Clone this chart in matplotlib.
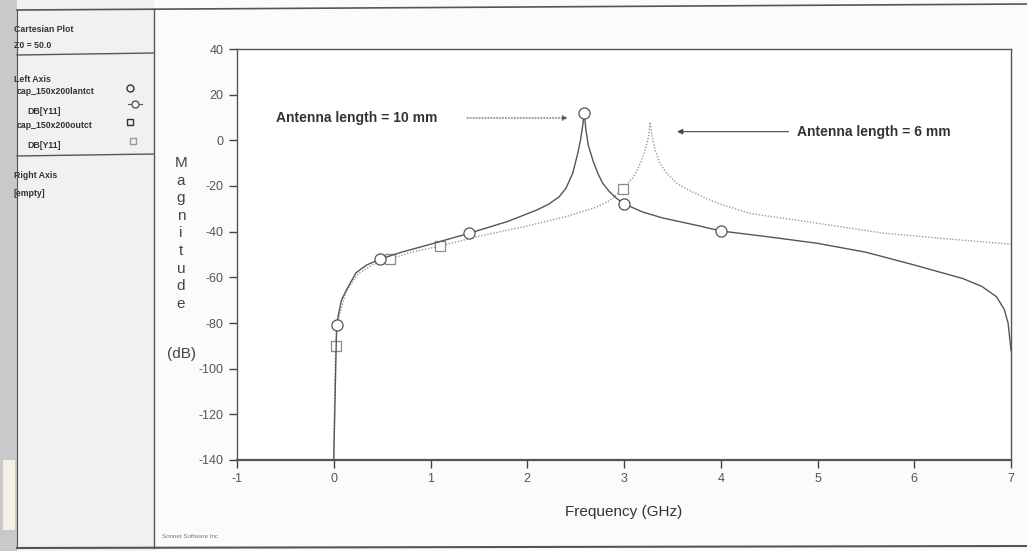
import numpy as np
import matplotlib.pyplot as plt
from matplotlib.patches import Rectangle

plt.rcParams['font.family'] = ['Liberation Sans', 'DejaVu Sans']

# 10 mm antenna, solid line (GHz, dB)
f_10mm = [0.0, 0.02, 0.03, 0.045, 0.08, 0.13, 0.23, 0.34, 0.48, 0.7, 1.0, 1.4,
          1.8, 2.1, 2.22, 2.33, 2.4, 2.47, 2.52, 2.55, 2.575, 2.59, 2.605, 2.63,
          2.68, 2.73, 2.78, 2.85, 2.92, 3.0, 3.2, 3.4, 3.78, 4.0, 4.5, 5.0, 5.5,
          6.0, 6.5, 6.7, 6.85, 6.93, 6.97, 7.0]
db_10mm = [-140, -100, -81, -77, -70, -65.6, -58, -54.6, -52, -49, -45.5, -40.7,
           -35.5, -30.5, -28, -24.7, -21, -14.4, -6, 0, 7, 12, 5, -2,
           -9, -14.5, -18.8, -22.5, -25.3, -27.8, -31.5, -34, -37.5, -39.7, -42.3,
           -45.1, -49, -54.6, -60.5, -64, -68.5, -74, -80, -92]
# circle markers on the 10 mm trace
mk_f_10mm = [0.03, 0.48, 1.40, 2.59, 3.0, 4.0]
mk_db_10mm = [-81, -52, -40.7, 12, -27.8, -39.7]

# 6 mm antenna, dotted line
f_6mm = [0.0, 0.01, 0.02, 0.03, 0.06, 0.13, 0.25, 0.4, 0.58, 0.8, 1.1, 1.5, 2.0,
         2.4, 2.7, 2.85, 2.99, 3.1, 3.17, 3.22, 3.25, 3.27, 3.29, 3.32, 3.37,
         3.44, 3.55, 3.68, 3.85, 4.0, 4.3, 5.0, 5.67, 6.3, 7.0]
db_6mm = [-140, -110, -90, -84, -76, -66, -58.5, -54.5, -52, -49, -46.3, -42,
          -37.5, -33.4, -29.5, -26.5, -21.3, -16, -10, -4, 1, 8, 2, -4, -10,
          -14.4, -19, -22, -25.5, -28, -32, -36.3, -40.6, -43, -45.5]
# square markers on the 6 mm trace
mk_f_6mm = [0.02, 0.58, 1.10, 2.99]
mk_db_6mm = [-90, -52, -46.3, -21.3]

xticks = [-1, 0, 1, 2, 3, 4, 5, 6, 7]
yticks = [40, 20, 0, -20, -40, -60, -80, -100, -120, -140]

W, H = 1027, 551
fig = plt.figure(figsize=(W / 100, H / 100), dpi=100)
fig.patch.set_facecolor('#fbfbfb')

# overlay in pixel coordinates for the frame / side panel
bg = fig.add_axes([0, 0, 1, 1])
bg.set_xlim(0, W)
bg.set_ylim(H, 0)
bg.axis('off')
bg.add_patch(Rectangle((0, 0), 17, H, color='#c9c9c9', lw=0))
bg.add_patch(Rectangle((17, 0), 137, H, color='#f1f1f1', lw=0))
bg.add_patch(Rectangle((3, 460), 12, 70, color='#f4f2e6', lw=0))
lc = '#555555'
bg.plot([17, 1027], [10, 4], color=lc, lw=1.2)
bg.plot([17, 1027], [548, 546], color=lc, lw=1.5)
bg.plot([17, 17], [10, 548], color=lc, lw=0.8)
bg.plot([154, 154], [9, 548], color=lc, lw=1)
bg.plot([17, 154], [55, 53], color=lc, lw=1)
bg.plot([17, 154], [156, 154], color=lc, lw=1)
kw = dict(fontsize=6.3, fontweight='bold', color='#333333', va='center')
bg.text(14, 29, 'Cartesian Plot', **kw)
bg.text(14, 46, 'Z0 = 50.0', **kw)
bg.text(14, 79, 'Left Axis', **kw)
bg.text(17, 92, 'cap_150x200lantct', **kw)
bg.text(27, 112, 'DB[Y11]', **kw)
bg.text(17, 125, 'cap_150x200outct', **kw)
bg.text(27, 146, 'DB[Y11]', **kw)
bg.text(14, 176, 'Right Axis', **kw)
bg.text(14, 193, '[empty]', **kw)
bg.plot([130], [88], 'o', mfc='none', mec='#333333', ms=5)
bg.plot([128, 142], [104, 104], color='#555555', lw=0.8)
bg.plot([135], [104], 'o', mfc='white', mec='#555555', ms=5)
bg.plot([130], [122], 's', mfc='none', mec='#333333', ms=5)
bg.plot([133], [141], 's', mfc='none', mec='#999999', ms=5)
bg.text(162, 537, 'Sonnet Software Inc', fontsize=4.5, color='#777777', va='center')

# y label as stacked letters
for i, ch in enumerate('Magnitude'):
    bg.text(181, 163 + i * 17.6, ch, fontsize=11, color='#444444', ha='center', va='center')
bg.text(181, 354, '(dB)', fontsize=11, color='#444444', ha='center', va='center')

ax = fig.add_axes([237 / W, 1 - 460 / H, (1011 - 237) / W, (460 - 49) / H])
ax.set_facecolor('white')

ax.plot(f_6mm, db_6mm, color='#9a9a9a', lw=1.0, ls=(0, (1, 1.2)))
ax.plot(mk_f_6mm, mk_db_6mm, 's', mfc='white', mec='#8a8a8a', ms=7, mew=0.9)
ax.plot(f_10mm, db_10mm, color='#555555', lw=1.0)
ax.plot(mk_f_10mm, mk_db_10mm, 'o', mfc='white', mec='#555555', ms=8, mew=0.9)

ax.set_xlim(-1, 7)
ax.set_ylim(-140, 40)
ax.set_xticks(xticks)
ax.set_yticks(yticks)
ax.set_xticklabels([str(t) for t in xticks])
ax.set_yticklabels([str(t) for t in yticks])
ax.tick_params(axis='both', direction='out', length=6, width=1, colors='#444444',
               labelsize=9, labelcolor='#555555')
for s in ax.spines.values():
    s.set_color('#555555')
    s.set_linewidth(1)
ax.spines['bottom'].set_linewidth(1.6)
ax.set_xlabel('Frequency (GHz)', fontsize=11, color='#333333', labelpad=14)

ax.annotate('', xy=(2.45, 9.8), xytext=(1.35, 9.8),
            arrowprops=dict(arrowstyle='-|>', color='#555555', lw=0.8, ls=':',
                            mutation_scale=8))
ax.text(-0.6, 9.8, 'Antenna length = 10 mm', fontsize=10, fontweight='bold',
        color='#333333', va='center')
ax.annotate('', xy=(3.52, 3.8), xytext=(4.73, 3.8),
            arrowprops=dict(arrowstyle='-|>', color='#444444', lw=0.8,
                            mutation_scale=8))
ax.text(4.79, 3.8, 'Antenna length = 6 mm', fontsize=10, fontweight='bold',
        color='#333333', va='center')

fig.savefig('out.png', dpi=100, facecolor=fig.get_facecolor())
